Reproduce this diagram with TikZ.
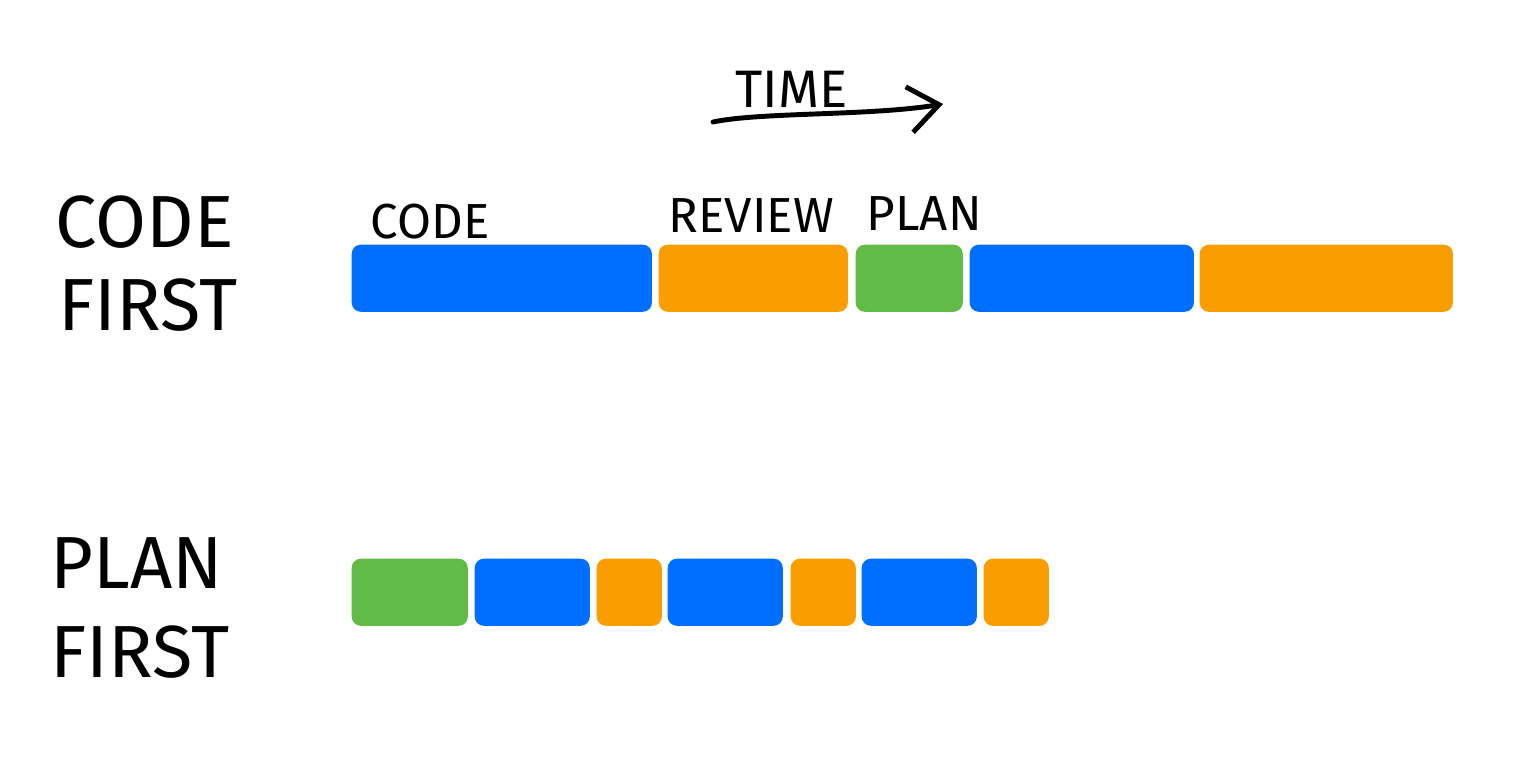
\documentclass[tikz,border=0pt]{standalone}
\usepackage{fontspec}
\setmainfont{Fira Sans}
\usetikzlibrary{arrows.meta}
\definecolor{codeblue}{RGB}{0,110,255}
\definecolor{revieworange}{RGB}{249,157,0}
\definecolor{plangreen}{RGB}{98,187,71}
\tikzset{
    %Define standard arrow tip
    >={Straight Barb[length=3mm,width=4.6mm]},
    %Define style for the time bars
    bar/.style={
           rectangle,
           rounded corners=0.09cm,
           anchor=north west,
           inner sep=0pt,
           minimum height=0.67cm},
    % Define styles for the hand lettering
    rowlabel/.style={
           anchor=west,
           inner sep=0pt,
           font=\fontsize{21}{21}\selectfont},
    barlabel/.style={
           anchor=west,
           inner sep=0pt,
           font=\fontsize{14}{14}\selectfont},
    % Define arrow style
    pil/.style={
           ->,
           line width=1.4pt,
           line cap=round}
}
\begin{document}
\begin{tikzpicture}[x=0.01cm,y=-0.01cm]
\useasboundingbox (0,0) rectangle (1525,760);

%time axis
\node[barlabel, font=\fontsize{15}{15}\selectfont] (time) at (735,89) {TIME};
\coordinate (timestart) at (713,122);
\coordinate (timeend) at (943,104);
\draw[pil] (timestart) .. controls (760,112) and (870,116) .. (timeend);

%code first
\node[rowlabel] (codefirst1) at (55,222) {CODE};
\node[rowlabel] (codefirst2) at (58,305) {FIRST};

\node[bar, fill=codeblue, minimum width=3.00cm] (cf1) at (351,244) {};
\node[bar, fill=revieworange, minimum width=1.89cm] (cf2) at (658,244) {};
\node[bar, fill=plangreen, minimum width=1.07cm] (cf3) at (855,244) {};
\node[bar, fill=codeblue, minimum width=2.24cm] (cf4) at (969,244) {};
\node[bar, fill=revieworange, minimum width=2.53cm] (cf5) at (1199,244) {};

\node[barlabel] (codelabel) at (370,222) {CODE};
\node[barlabel] (reviewlabel) at (668,216) {REVIEW};
\node[barlabel] (planlabel) at (866,214) {PLAN};

%plan first
\node[rowlabel] (planfirst1) at (50,563) {PLAN};
\node[rowlabel] (planfirst2) at (50,652) {FIRST};

\node[bar, fill=plangreen, minimum width=1.16cm] (pf1) at (351,558) {};
\node[bar, fill=codeblue, minimum width=1.15cm] (pf2) at (474,558) {};
\node[bar, fill=revieworange, minimum width=0.65cm] (pf3) at (596,558) {};
\node[bar, fill=codeblue, minimum width=1.15cm] (pf4) at (667,558) {};
\node[bar, fill=revieworange, minimum width=0.65cm] (pf5) at (790,558) {};
\node[bar, fill=codeblue, minimum width=1.15cm] (pf6) at (861,558) {};
\node[bar, fill=revieworange, minimum width=0.65cm] (pf7) at (983,558) {};

\end{tikzpicture}
\end{document}
